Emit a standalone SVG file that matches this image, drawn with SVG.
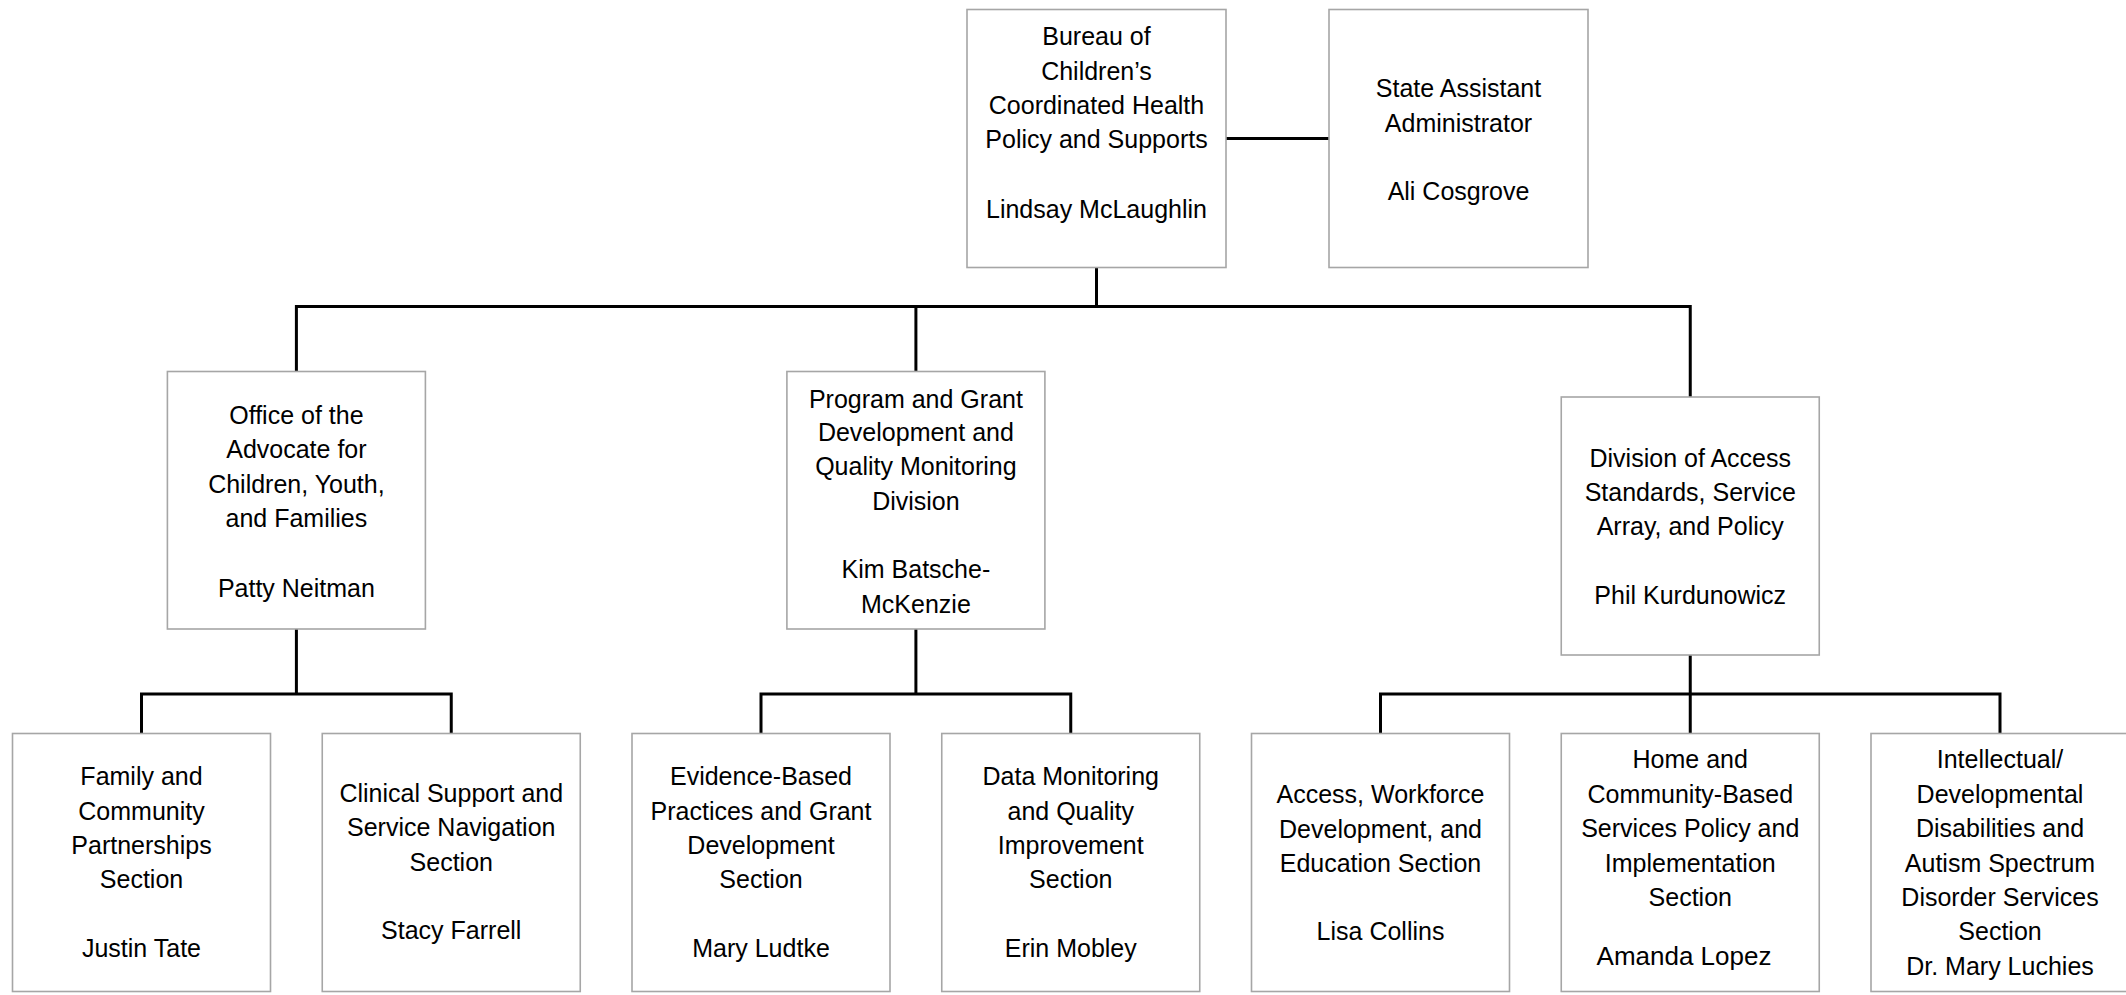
<svg xmlns="http://www.w3.org/2000/svg" width="2126" height="995" viewBox="0 0 2126 995">
<style>
.box{fill:#ffffff;stroke:#a6a6a6;stroke-width:1.6}
.t{font-family:"Liberation Sans",Arial,sans-serif;font-size:25px;fill:#000;text-anchor:middle}
.a{font-family:"Liberation Sans",Arial,sans-serif;font-size:26px;fill:#000;text-anchor:middle}
.c{fill:none;stroke:#000;stroke-width:3;stroke-linejoin:miter;stroke-linecap:butt}
</style>
<rect width="2126" height="995" fill="#ffffff"/>
<g id="connectors">
<line class="c" x1="1226" y1="138.5" x2="1329" y2="138.5"/>
<line class="c" x1="1096.5" y1="267" x2="1096.5" y2="307"/>
<polyline class="c" points="296.4,371.5 296.4,306.5 1690.25,306.5 1690.25,397"/>
<line class="c" x1="915.9" y1="306.5" x2="915.9" y2="371.5"/>
<line class="c" x1="296.4" y1="629" x2="296.4" y2="694"/>
<polyline class="c" points="141.5,733.5 141.5,694 451.25,694 451.25,733.5"/>
<line class="c" x1="915.9" y1="629" x2="915.9" y2="694"/>
<polyline class="c" points="761,733.5 761,694 1070.75,694 1070.75,733.5"/>
<line class="c" x1="1690.25" y1="655" x2="1690.25" y2="733.5"/>
<polyline class="c" points="1380.5,733.5 1380.5,694 2000,694 2000,733.5"/>
</g>
<g id="bureau">
<rect class="box" x="967" y="9.5" width="259" height="258"/>
<text class="t" x="1096.5" y="45">Bureau of</text>
<text class="t" x="1096.5" y="79.5">Children’s</text>
<text class="t" x="1096.5" y="114">Coordinated Health</text>
<text class="t" x="1096.5" y="148.3">Policy and Supports</text>
<text class="t" x="1096.5" y="217.5">Lindsay McLaughlin</text>
</g>
<g id="state">
<rect class="box" x="1329" y="9.5" width="259" height="258"/>
<text class="t" x="1458.5" y="97.3">State Assistant</text>
<text class="t" x="1458.5" y="131.5">Administrator</text>
<text class="t" x="1458.5" y="200">Ali Cosgrove</text>
</g>
<g id="office">
<rect class="box" x="167.4" y="371.5" width="258" height="257.5"/>
<text class="t" x="296.4" y="424">Office of the</text>
<text class="t" x="296.4" y="458.3">Advocate for</text>
<text class="t" x="296.4" y="492.7">Children, Youth,</text>
<text class="t" x="296.4" y="527.2">and Families</text>
<text class="t" x="296.4" y="596.5">Patty Neitman</text>
</g>
<g id="program">
<rect class="box" x="786.9" y="371.5" width="258" height="257.5"/>
<text class="t" x="915.9" y="407.5">Program and Grant</text>
<text class="t" x="915.9" y="441">Development and</text>
<text class="t" x="915.9" y="475.3">Quality Monitoring</text>
<text class="t" x="915.9" y="509.6">Division</text>
<text class="t" x="915.9" y="578.3">Kim Batsche-</text>
<text class="t" x="915.9" y="612.6">McKenzie</text>
</g>
<g id="division">
<rect class="box" x="1561.25" y="397" width="258" height="258"/>
<text class="t" x="1690.25" y="467">Division of Access</text>
<text class="t" x="1690.25" y="501">Standards, Service</text>
<text class="t" x="1690.25" y="535.2">Array, and Policy</text>
<text class="t" x="1690.25" y="604">Phil Kurdunowicz</text>
</g>
<g id="family">
<rect class="box" x="12.5" y="733.5" width="258" height="258"/>
<text class="t" x="141.5" y="785">Family and</text>
<text class="t" x="141.5" y="819.5">Community</text>
<text class="t" x="141.5" y="853.8">Partnerships</text>
<text class="t" x="141.5" y="888.2">Section</text>
<text class="t" x="141.5" y="956.7">Justin Tate</text>
</g>
<g id="clinical">
<rect class="box" x="322.25" y="733.5" width="258" height="258"/>
<text class="t" x="451.25" y="801.7">Clinical Support and</text>
<text class="t" x="451.25" y="836.3">Service Navigation</text>
<text class="t" x="451.25" y="870.8">Section</text>
<text class="t" x="451.25" y="939.3">Stacy Farrell</text>
</g>
<g id="evidence">
<rect class="box" x="632" y="733.5" width="258" height="258"/>
<text class="t" x="761" y="785.2">Evidence-Based</text>
<text class="t" x="761" y="819.6">Practices and Grant</text>
<text class="t" x="761" y="853.6">Development</text>
<text class="t" x="761" y="887.8">Section</text>
<text class="t" x="761" y="956.5">Mary Ludtke</text>
</g>
<g id="data">
<rect class="box" x="941.75" y="733.5" width="258" height="258"/>
<text class="t" x="1070.75" y="785.2">Data Monitoring</text>
<text class="t" x="1070.75" y="819.6">and Quality</text>
<text class="t" x="1070.75" y="853.6">Improvement</text>
<text class="t" x="1070.75" y="887.8">Section</text>
<text class="t" x="1070.75" y="956.5">Erin Mobley</text>
</g>
<g id="access">
<rect class="box" x="1251.5" y="733.5" width="258" height="258"/>
<text class="t" x="1380.5" y="803.3">Access, Workforce</text>
<text class="t" x="1380.5" y="837.5">Development, and</text>
<text class="t" x="1380.5" y="871.8">Education Section</text>
<text class="t" x="1380.5" y="940.3">Lisa Collins</text>
</g>
<g id="home">
<rect class="box" x="1561.25" y="733.5" width="258" height="258"/>
<text class="t" x="1690.25" y="768.3">Home and</text>
<text class="t" x="1690.25" y="802.7">Community-Based</text>
<text class="t" x="1690.25" y="837.2">Services Policy and</text>
<text class="t" x="1690.25" y="871.6">Implementation</text>
<text class="t" x="1690.25" y="905.9">Section</text>
<text class="a" x="1684" y="965">Amanda Lopez</text>
</g>
<g id="intellectual">
<rect class="box" x="1871" y="733.5" width="258" height="258"/>
<text class="t" x="2000" y="768.3">Intellectual/</text>
<text class="t" x="2000" y="802.7">Developmental</text>
<text class="t" x="2000" y="837.2">Disabilities and</text>
<text class="t" x="2000" y="871.6">Autism Spectrum</text>
<text class="t" x="2000" y="905.9">Disorder Services</text>
<text class="t" x="2000" y="940.3">Section</text>
<text class="t" x="2000" y="974.8">Dr. Mary Luchies</text>
</g>
</svg>
